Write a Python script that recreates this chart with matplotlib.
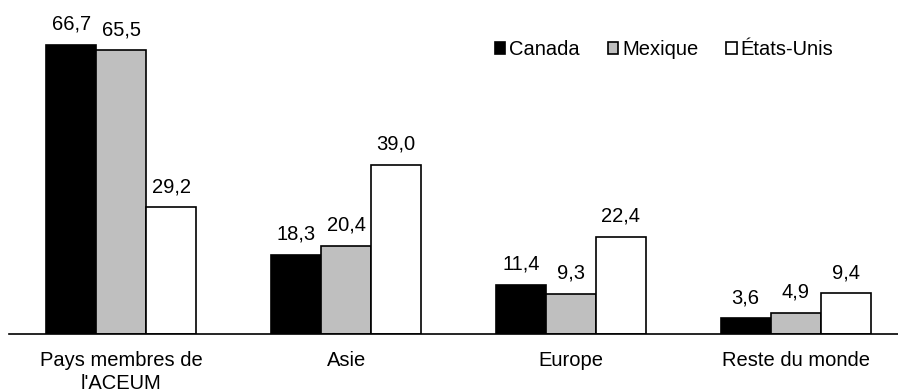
import matplotlib
matplotlib.use("Agg")
import matplotlib.pyplot as plt
from matplotlib.patches import Patch
import numpy as np

categories = ["Pays membres de\nl'ACEUM", "Asie", "Europe", "Reste du monde"]
series_names = ["Canada", "Mexique", "États-Unis"]
canada = [66.7, 18.3, 11.4, 3.6]
mexique = [65.5, 20.4, 9.3, 4.9]
etats_unis = [29.2, 39.0, 22.4, 9.4]
colors = ["#000000", "#BFBFBF", "#FFFFFF"]

plt.rcParams['font.family'] = ['Liberation Sans', 'DejaVu Sans']

fig = plt.figure(figsize=(8.98, 3.92), dpi=100)
W, H = 898, 392
ax = fig.add_axes([9 / W, (H - 334) / H, 889 / W, 334 / H])

x = np.arange(len(categories))
bw = 0.2225
for i, (vals, col, name) in enumerate(zip([canada, mexique, etats_unis], colors, series_names)):
    pos = x + (i - 1) * bw
    bars = ax.bar(pos, vals, width=bw, color=col, edgecolor='black', linewidth=1.2, label=name, zorder=2)
    for b, v in zip(bars, vals):
        ax.annotate(f"{v:.1f}".replace('.', ','), (b.get_x() + b.get_width() / 2, v),
                    xytext=(0, 8), textcoords='offset points', ha='center', va='bottom',
                    fontsize=14.5)

ax.set_xlim(-0.5, 3.456)
ax.set_ylim(0, 334 / 4.333)
ax.set_xticks(x)
ax.set_xticklabels(categories, fontsize=14.5, linespacing=1.3)
ax.tick_params(axis='x', length=0, pad=12)
ax.set_yticks([])
for s in ['top', 'right', 'left']:
    ax.spines[s].set_visible(False)
ax.spines['bottom'].set_linewidth(1.2)

handles = [Patch(facecolor=c, edgecolor='black', linewidth=1.2) for c in colors]
ax.legend(handles, series_names, loc='upper left', bbox_to_anchor=(486 / 889, 1 - 40 / 334),
          ncol=3, frameon=False, fontsize=14.5, handlelength=0.5, handleheight=0.5,
          handletextpad=0.2, columnspacing=1.4, borderaxespad=0, borderpad=0)

fig.savefig("out.png", dpi=100)
